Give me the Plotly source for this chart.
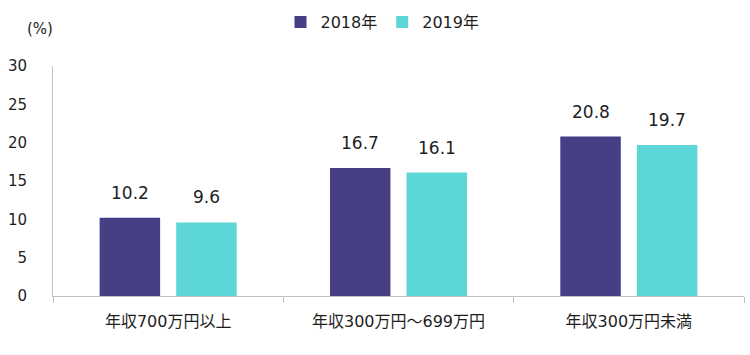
import plotly.graph_objects as go

categories = ["年収700万円以上", "年収300万円～699万円", "年収300万円未満"]
series_names = ["2018年", "2019年"]
values_2018 = [10.2, 16.7, 20.8]
values_2019 = [9.6, 16.1, 19.7]
colors = ["#463F86", "#5CD6D6"]

FONT = "DejaVu Sans, Noto Sans CJK JP"
TXT = "#1E1E1E"

W, H = 750, 355
ML, MR, MT, MB = 53, 6, 66, 59

fig = go.Figure()
for name, vals, col in zip(series_names, [values_2018, values_2019], colors):
    fig.add_trace(go.Bar(x=categories, y=vals, name=name,
                         marker=dict(color=col, line=dict(width=0))))

annotations = []
for shift, vals in zip([-38.3, 38.3], [values_2018, values_2019]):
    for c, v in zip(categories, vals):
        annotations.append(dict(x=c, y=v, xref="x", yref="y", text=f"{v:.1f}", showarrow=False,
                                xshift=shift, yshift=25, yanchor="middle",
                                font=dict(family=FONT, size=17, color=TXT)))
pw = W - ML - MR
ph = H - MT - MB
annotations.append(dict(x=(40 - ML) / pw, y=(H - MB - 29) / ph, xref="paper", yref="paper",
                        text="(%)", showarrow=False, xanchor="center", yanchor="middle",
                        font=dict(family=FONT, size=15, color=TXT)))

fig.update_layout(
    width=W, height=H,
    margin=dict(l=ML, r=MR, t=MT, b=MB, autoexpand=False),
    paper_bgcolor="white", plot_bgcolor="white",
    barmode="group", bargap=0.335, bargroupgap=0.21,
    font=dict(family=FONT, size=15, color=TXT),
    legend=dict(orientation="h", x=0.51, xref="container", xanchor="center",
                y=1 - 5 / H, yref="container", yanchor="top",
                font=dict(family=FONT, size=16, color=TXT), itemwidth=30,
                traceorder="normal", tracegroupgap=0),
    showlegend=True,
    annotations=annotations,
)

fig.update_xaxes(showline=True, linecolor="#BFBFBF", linewidth=1, ticks="outside",
                 tickson="boundaries", ticklen=6, tickcolor="#BFBFBF", showgrid=False,
                 ticklabelstandoff=11,
                 tickfont=dict(family=FONT, size=16, color=TXT))
fig.update_yaxes(range=[0, 30], dtick=5, showline=True, linecolor="#BFBFBF", linewidth=1,
                 showgrid=False, zeroline=False, ticks="", ticklabelstandoff=22,
                 tickfont=dict(family=FONT, size=15, color=TXT))

fig.write_html("out.html", config={"displayModeBar": False},
               post_script="document.body.style.margin='0';document.body.style.padding='0';")
